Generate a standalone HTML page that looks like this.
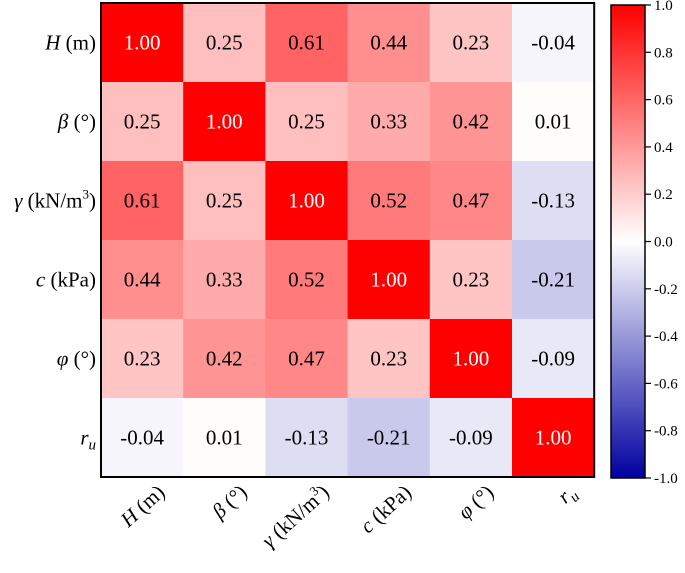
<!DOCTYPE html>
<html><head><meta charset="utf-8"><style>body{margin:0;background:#fff}svg{display:block}text,tspan{font-family:"Liberation Serif","Times New Roman",Times,serif}</style></head>
<body>
<svg id="chart" width="685" height="573" viewBox="0 0 685 573"></svg>
<script>
const labels = ['H','β','γ','c','φ','r'];
const units = [' (m)',' (°)',' (kN/m','(kPa)',' (°)',''];
const matrix = [
 [1.00,0.25,0.61,0.44,0.23,-0.04],
 [0.25,1.00,0.25,0.33,0.42,0.01],
 [0.61,0.25,1.00,0.52,0.47,-0.13],
 [0.44,0.33,0.52,1.00,0.23,-0.21],
 [0.23,0.42,0.47,0.23,1.00,-0.09],
 [-0.04,0.01,-0.13,-0.21,-0.09,1.00]
];
const cbTicks = [1.0,0.8,0.6,0.4,0.2,0.0,-0.2,-0.4,-0.6,-0.8,-1.0];
const NS='http://www.w3.org/2000/svg';
const svg=document.getElementById('chart');
const X0=101,Y0=3,CW=82.2,CH=79;
const FF='font-family:"Liberation Serif","Times New Roman",serif;';
function color(v){
  if(v>=0){const g=Math.round(255*(1-v));return `rgb(255,${g},${g})`;}
  const t=-v;return `rgb(${Math.round(255*(1-t))},${Math.round(255*(1-t))},${Math.round(255-95*t)})`;
}
function el(tag,attrs){const e=document.createElementNS(NS,tag);for(const k in attrs)e.setAttribute(k,attrs[k]);svg.appendChild(e);return e;}
function labelHTML(i){
  if(i===5)return '<tspan font-style="italic">r</tspan><tspan font-style="italic" style="font-size:15px" dy="5">u</tspan>';
  if(i===2)return '<tspan font-style="italic">γ</tspan> (kN/m<tspan style="font-size:13px" dy="-9">3</tspan><tspan dy="9">)</tspan>';
  if(i===3)return '<tspan font-style="italic">c</tspan> (kPa)';
  return '<tspan font-style="italic">'+labels[i]+'</tspan>'+units[i];
}
for(let r=0;r<6;r++)for(let c=0;c<6;c++){
  const v=matrix[r][c];
  const rc=el('rect',{x:X0+c*CW,y:Y0+r*CH,width:CW+0.5,height:CH+0.5,fill:color(v)});
  
  
  const t=el('text',{x:X0+c*CW+CW/2,y:Y0+r*CH+CH/2+7,'text-anchor':'middle',style:FF+'font-size:21px',fill:v>0.9?'#fff':'#000'});
  t.textContent=v.toFixed(2);
  
  
}
const bd=el('rect',{x:X0,y:Y0,width:CW*6,height:CH*6,fill:'none',stroke:'#000','stroke-width':2});


for(let i=0;i<6;i++){
  const yl=el('text',{x:96,y:Y0+i*CH+CH/2+7,'text-anchor':'end',style:FF+'font-size:21px'});
  yl.innerHTML=labelHTML(i);
  
  
  const cx=X0+i*CW+CW/2+24, cy=494;
  const xl=el('text',{x:cx,y:cy,'text-anchor':'end',style:FF+'font-size:21px',transform:`rotate(-42 ${cx} ${cy})`});
  xl.innerHTML=labelHTML(i);
  
  
}
const CBX=611,CBW=34,CBT=5,CBB=478;
const defs=el('defs',{});
const lg=document.createElementNS(NS,'linearGradient');lg.setAttribute('id','cbg');lg.setAttribute('x1','0');lg.setAttribute('y1','0');lg.setAttribute('x2','0');lg.setAttribute('y2','1');
for(let k=0;k<=20;k++){const v=1-k/10;const s=document.createElementNS(NS,'stop');s.setAttribute('offset',k/20);s.setAttribute('stop-color',color(v));lg.appendChild(s);}
defs.appendChild(lg);
const cb=el('rect',{x:CBX,y:CBT,width:CBW,height:CBB-CBT,fill:'url(#cbg)',stroke:'#000','stroke-width':1.5});


const cy=v=>CBT+(1-v)/2*(CBB-CBT);
cbTicks.forEach(v=>{
  const tk=el('line',{x1:CBX+CBW,x2:CBX+CBW+6,y1:cy(v),y2:cy(v),stroke:'#000','stroke-width':1.2});
  
  
  const t=el('text',{x:CBX+CBW+9,y:cy(v)+5,style:FF+'font-size:15px'});
  t.textContent=v.toFixed(1);
  
  
});
</script>
</body></html>
